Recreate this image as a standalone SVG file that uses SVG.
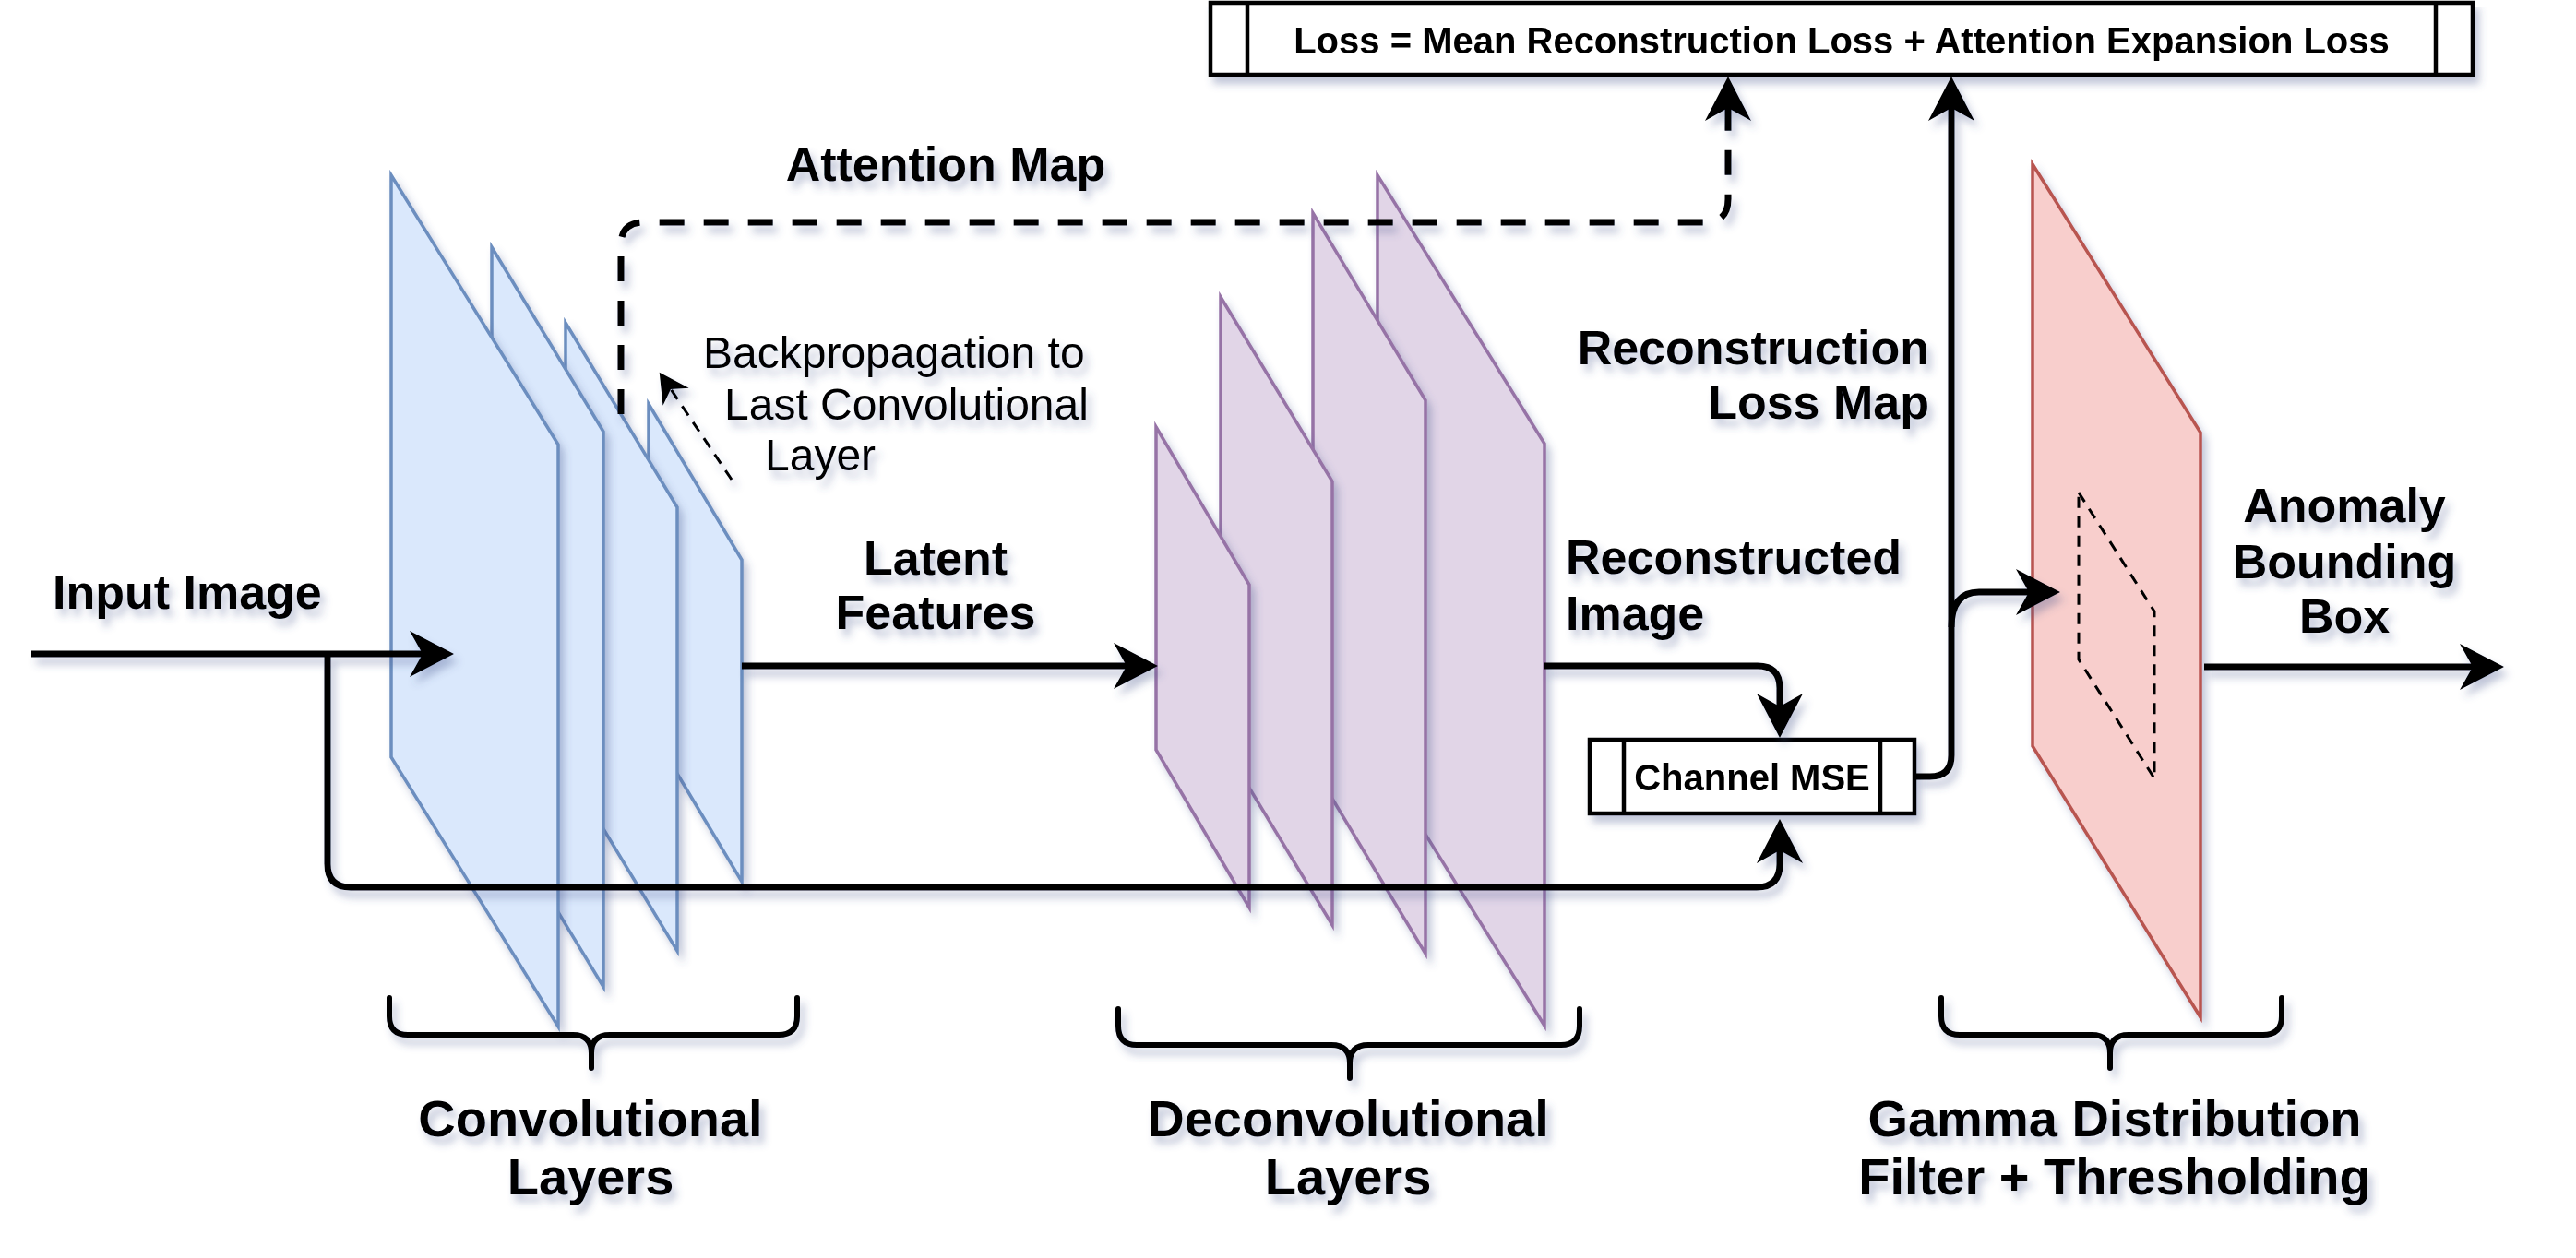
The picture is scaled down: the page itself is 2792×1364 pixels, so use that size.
<svg xmlns="http://www.w3.org/2000/svg" width="2792" height="1364" viewBox="0 0 2792 1364">
<style>
  .lbl{font-family:"Liberation Sans",Arial,sans-serif;font-weight:bold;font-size:52px;fill:#000}
  .big{font-size:56px}
  .reg{font-family:"Liberation Sans",Arial,sans-serif;font-weight:normal;font-size:48px;fill:#000}
  .box{font-family:"Liberation Sans",Arial,sans-serif;font-weight:bold;font-size:40px;fill:#000}
  .mid{text-anchor:middle}
  .end{text-anchor:end}
  .blue{fill:#dae8fc;stroke:#6c8ebf;stroke-width:3.5;stroke-linejoin:miter}
  .purple{fill:#e1d5e7;stroke:#9673a6;stroke-width:3.5}
  .red{fill:#f8cecc;stroke:#b85450;stroke-width:3.5}
  .proc{fill:#fff;stroke:#000;stroke-width:4.5}
  .conn{fill:none;stroke:#000;stroke-width:7;stroke-linejoin:round}
  .dash{stroke-dasharray:27 21}
  .thin{fill:none;stroke:#000;stroke-width:3;stroke-dasharray:12 9}
  .brace{fill:none;stroke:#000;stroke-width:6;stroke-linejoin:round;stroke-linecap:round}
</style>
<defs>
  <filter id="sh" filterUnits="userSpaceOnUse" x="0" y="0" width="2792" height="1364">
    <feGaussianBlur in="SourceAlpha" stdDeviation="4"/>
    <feOffset dx="5" dy="8" result="b"/>
    <feFlood flood-color="#45558c" flood-opacity="0.33"/>
    <feComposite in2="b" operator="in"/>
    <feMerge><feMergeNode/><feMergeNode in="SourceGraphic"/></feMerge>
  </filter>
  <marker id="arr" markerUnits="userSpaceOnUse" markerWidth="50" markerHeight="52" refX="14" refY="25" orient="auto">
    <path d="M0,0 L48,25 L0,50 L14,25 Z" fill="#000"/>
  </marker>
  <marker id="arrS" markerUnits="userSpaceOnUse" markerWidth="34" markerHeight="36" refX="10" refY="17" orient="auto">
    <path d="M0,0 L32,17 L0,34 L10,17 Z" fill="#000"/>
  </marker>
</defs>
<rect width="2792" height="1364" fill="#fff"/>

<!-- Convolutional layers (back to front) -->
<g id="conv-layers">
  <polygon class="blue" filter="url(#sh)" points="703,438 804,607 804,956 703,787"/>
  <polygon class="blue" filter="url(#sh)" points="613,350 734,550 734,1031 613,831"/>
  <polygon class="blue" filter="url(#sh)" points="533,268 654,468 654,1070 533,870"/>
  <polygon class="blue" filter="url(#sh)" points="424,190 605,482 605,1113 424,821"/>
</g>

<!-- Deconvolutional layers (back to front) -->
<g id="deconv-layers">
  <polygon class="purple" filter="url(#sh)" points="1493,190 1674,481 1674,1112 1493,821"/>
  <polygon class="purple" filter="url(#sh)" points="1423,231 1545,434 1545,1034 1423,831"/>
  <polygon class="purple" filter="url(#sh)" points="1323,322 1444,522 1444,1003 1323,803"/>
  <polygon class="purple" filter="url(#sh)" points="1253,463 1354,634 1354,984 1253,813"/>
</g>

<!-- Gamma filter layer -->
<g id="gamma-layer">
  <polygon class="red" filter="url(#sh)" points="2203,178 2385,469 2385,1103 2203,809"/>
  <polygon class="thin" points="2253,534 2335,663 2335,844 2253,715"/>
</g>

<!-- Loss box -->
<g id="loss-box" filter="url(#sh)">
  <rect class="proc" x="1312" y="3" width="1368" height="78"/>
  <line x1="1352" y1="3" x2="1352" y2="81" stroke="#000" stroke-width="4.5"/>
  <line x1="2640" y1="3" x2="2640" y2="81" stroke="#000" stroke-width="4.5"/>
  <text class="box mid" x="1996" y="58">Loss = Mean Reconstruction Loss + Attention Expansion Loss</text>
</g>

<!-- Channel MSE box -->
<g id="channel-mse" filter="url(#sh)">
  <rect class="proc" x="1723" y="802" width="352" height="80"/>
  <line x1="1760" y1="802" x2="1760" y2="882" stroke="#000" stroke-width="4.5"/>
  <line x1="2038" y1="802" x2="2038" y2="882" stroke="#000" stroke-width="4.5"/>
  <text class="box mid" x="1899" y="857">Channel MSE</text>
</g>

<!-- Connectors -->
<g id="connectors" filter="url(#sh)">
  <path class="conn" d="M34,709 L458,709" marker-end="url(#arr)"/>
  <path class="conn" d="M355,709 V937 Q355,962 380,962 H1904 Q1929,962 1929,937 V922" marker-end="url(#arr)"/>
  <path class="conn" d="M804,722 H1221" marker-end="url(#arr)"/>
  <path class="conn" d="M1674,722 H1905 Q1929,722 1929,746 V766" marker-end="url(#arr)"/>
  <path class="conn" d="M2077,842 H2092 Q2115,842 2115,819 V117" marker-end="url(#arr)"/>
  <path class="conn" d="M2115,680 Q2115,642 2145,642 H2199" marker-end="url(#arr)"/>
  <path class="conn" d="M2389,723 H2680" marker-end="url(#arr)"/>
  <path class="conn dash" d="M673,449 V266 Q673,241 698,241 H1848 Q1873,241 1873,216 V117" marker-end="url(#arr)"/>
  <path class="thin" d="M793,520 L727,422" marker-end="url(#arrS)"/>
</g>

<!-- Braces -->
<g id="brace-conv" filter="url(#sh)">
  <path class="brace" d="M422,1082 V1102 Q422,1122 442,1122 H621 Q641,1122 641,1142 V1158 M641,1142 Q641,1122 661,1122 H844 Q864,1122 864,1102 V1082"/>
</g>
<g id="brace-deconv" filter="url(#sh)">
  <path class="brace" d="M1212,1094 V1112 Q1212,1133 1232,1133 H1443 Q1463,1133 1463,1153 V1169 M1463,1153 Q1463,1133 1483,1133 H1692 Q1712,1133 1712,1112 V1094"/>
</g>
<g id="brace-gamma" filter="url(#sh)">
  <path class="brace" d="M2104,1082 V1102 Q2104,1122 2124,1122 H2267 Q2287,1122 2287,1142 V1158 M2287,1142 Q2287,1122 2307,1122 H2453 Q2473,1122 2473,1102 V1082"/>
</g>

<!-- Labels -->
<g id="labels" filter="url(#sh)">
  <text class="lbl" x="57" y="660">Input Image</text>
  <text class="lbl mid" x="1025" y="196">Attention Map</text>
  <text class="lbl mid" x="1014" y="623">Latent</text>
  <text class="lbl mid" x="1014" y="682">Features</text>
  <text class="lbl" x="1697" y="622">Reconstructed</text>
  <text class="lbl" x="1697" y="683">Image</text>
  <text class="lbl end" x="2091" y="395">Reconstruction</text>
  <text class="lbl end" x="2091" y="454">Loss Map</text>
  <text class="lbl mid" x="2541" y="566">Anomaly</text>
  <text class="lbl mid" x="2541" y="627">Bounding</text>
  <text class="lbl mid" x="2541" y="686">Box</text>
  <text class="reg" x="762" y="399">Backpropagation to</text>
  <text class="reg" x="785" y="455">Last Convolutional</text>
  <text class="reg" x="829" y="510">Layer</text>
  <text class="lbl big mid" x="640" y="1232">Convolutional</text>
  <text class="lbl big mid" x="640" y="1295">Layers</text>
  <text class="lbl big mid" x="1461" y="1232">Deconvolutional</text>
  <text class="lbl big mid" x="1461" y="1295">Layers</text>
  <text class="lbl big mid" x="2292" y="1232">Gamma Distribution</text>
  <text class="lbl big mid" x="2292" y="1295">Filter + Thresholding</text>
</g>
</svg>
